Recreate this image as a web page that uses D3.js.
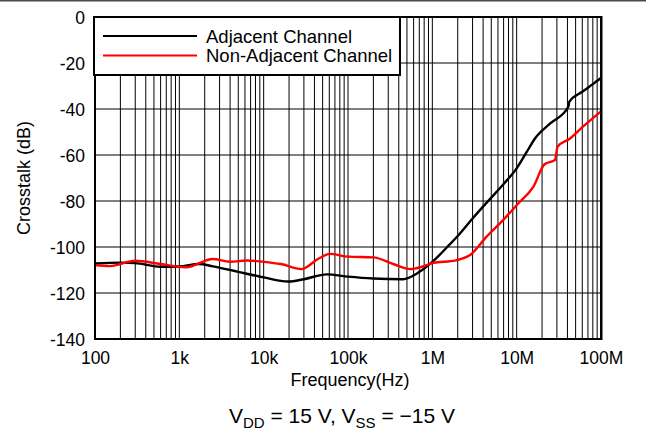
<!DOCTYPE html>
<html>
<head>
<meta charset="utf-8">
<script src="https://cdn.jsdelivr.net/npm/d3@7"></script>
<style>
  html, body { margin: 0; padding: 0; background: #fff; }
  svg { display: block; font-family: "Liberation Sans", Arial, sans-serif; }
</style>
</head>
<body>
<svg id="chart" width="646" height="430"></svg>
<script>
// Crosstalk vs frequency, VDD = 15 V, VSS = -15 V
const xTickValues = [1e2, 1e3, 1e4, 1e5, 1e6, 1e7, 1e8];
const xTickLabels = ["100", "1k", "10k", "100k", "1M", "10M", "100M"];
const yTickValues = [0, -20, -40, -60, -80, -100, -120, -140];
const yTickLabels = ["0", "-20", "-40", "-60", "-80", "-100", "-120", "-140"];
const seriesNames = ["Adjacent Channel", "Non-Adjacent Channel"];
const seriesColors = ["#000000", "#ff0000"];

// [frequency Hz, crosstalk dB]
const adjacent = [
  [100, -107.1], [200, -106.8], [300, -107.0], [600, -108.6], [1000, -108.5],
  [1700, -107.4], [2500, -108.4], [5000, -110.8], [10000, -113.2], [19500, -115.0],
  [30000, -114.0], [56000, -111.9], [100000, -112.9], [200000, -113.7], [450000, -114.0],
  [650000, -111.6], [1000000, -106.5], [1500000, -100.0], [2000000, -95.2], [3000000, -87.6],
  [4700000, -79.6], [7000000, -72.6], [10000000, -65.8], [13000000, -59.0], [16500000, -52.8],
  [25000000, -46.3], [41000000, -39.0], [42000000, -36.9], [60000000, -32.5], [80000000, -29.2],
  [100000000, -26.5]
];
const nonAdjacent = [
  [100, -107.8], [150, -108.3], [300, -106.0], [600, -107.4], [1200, -108.8],
  [2500, -105.2], [4000, -106.4], [6300, -105.9], [12000, -106.8], [16000, -107.4],
  [28000, -109.6], [45000, -105.0], [61000, -103.0], [100000, -104.2], [200000, -104.5],
  [350000, -107.5], [545000, -109.6], [750000, -108.6], [1000000, -107.0], [1900000, -105.8],
  [2800000, -103.5], [4400000, -95.5], [6900000, -88.3], [10500000, -81.0], [15800000, -73.8],
  [21400000, -64.0], [28500000, -62.2], [30500000, -56.4], [43000000, -52.8], [61000000, -47.7],
  [100000000, -41.0]
];

const svg = d3.select("#chart");
const plot = { left: 95, right: 601, top: 17, bottom: 339 };

const x = d3.scaleLog().domain([1e2, 1e8]).range([plot.left, plot.right]);
const y = d3.scaleLinear().domain([-140, 0]).range([plot.bottom, plot.top]);

// thin rule along the top edge of the page
svg.append("rect").attr("x", 0).attr("y", 0).attr("width", 646).attr("height", 1.5).attr("fill", "#4a4a4a");

// log grid: every 1..9 step within each decade
const gridX = [];
for (let d = 2; d < 8; d++) {
  for (let m = 1; m <= 9; m++) gridX.push(m * Math.pow(10, d));
}
const grid = svg.append("g").attr("class", "grid");
grid.selectAll("line.vx").data(gridX.filter(v => v > 1e2 && v < 1e8)).join("line")
  .attr("class", "vx")
  .attr("x1", d => x(d)).attr("x2", d => x(d))
  .attr("y1", plot.top).attr("y2", plot.bottom)
  .attr("stroke", "#000").attr("stroke-width", 1);
grid.selectAll("line.hy").data(yTickValues.filter(v => v > -140 && v < 0)).join("line")
  .attr("class", "hy")
  .attr("x1", plot.left).attr("x2", plot.right)
  .attr("y1", d => y(d)).attr("y2", d => y(d))
  .attr("stroke", "#000").attr("stroke-width", 1);

// curves
const line = d3.line()
  .x(d => x(d[0]))
  .y(d => y(d[1]))
  .curve(d3.curveMonotoneX);
[adjacent, nonAdjacent].forEach((s, i) => {
  svg.append("path").datum(s)
    .attr("d", line)
    .attr("fill", "none")
    .attr("stroke", seriesColors[i])
    .attr("stroke-width", 2.4)
    .attr("stroke-linejoin", "round");
});

// frame
svg.append("rect")
  .attr("x", plot.left).attr("y", plot.top)
  .attr("width", plot.right - plot.left).attr("height", plot.bottom - plot.top)
  .attr("fill", "none").attr("stroke", "#000").attr("stroke-width", 2);
svg.append("line")
  .attr("x1", plot.right + 0.5).attr("x2", plot.right + 0.5)
  .attr("y1", plot.top - 1).attr("y2", plot.bottom + 1)
  .attr("stroke", "#000").attr("stroke-width", 2);

// axes (labels only, the frame carries the axis lines)
const tickFont = 17.5;
const xAxis = d3.axisBottom(x)
  .tickValues(xTickValues)
  .tickFormat((d, i) => xTickLabels[i])
  .tickSize(0).tickPadding(0);
const gx = svg.append("g").attr("transform", `translate(0,${plot.bottom})`).call(xAxis);
gx.select(".domain").remove();
gx.selectAll("text").attr("dy", null).attr("y", 25)
  .attr("font-size", tickFont).attr("fill", "#000")
  .attr("font-family", "Liberation Sans, Arial, sans-serif");

const yAxis = d3.axisLeft(y).tickValues(yTickValues)
  .tickFormat((d, i) => yTickLabels[i])
  .tickSize(0).tickPadding(0);
const gy = svg.append("g").attr("transform", `translate(${plot.left},0)`).call(yAxis);
gy.select(".domain").remove();
gy.selectAll("text").attr("x", -10).attr("dy", "0.36em")
  .attr("font-size", tickFont).attr("fill", "#000")
  .attr("font-family", "Liberation Sans, Arial, sans-serif");

// axis titles
svg.append("text")
  .attr("x", (plot.left + plot.right) / 2 + 2).attr("y", 386)
  .attr("text-anchor", "middle").attr("font-size", 18)
  .text("Frequency(Hz)");
svg.append("text")
  .attr("transform", `translate(30,${(plot.top + plot.bottom) / 2}) rotate(-90)`)
  .attr("text-anchor", "middle").attr("font-size", 18)
  .text("Crosstalk (dB)");

// condition caption
const cap = svg.append("text")
  .attr("x", 342).attr("y", 423)
  .attr("text-anchor", "middle").attr("font-size", 21);
cap.append("tspan").text("V");
cap.append("tspan").attr("font-size", 15).attr("dy", 5).text("DD");
cap.append("tspan").attr("dy", -5).text(" = 15 V, V");
cap.append("tspan").attr("font-size", 15).attr("dy", 5).text("SS");
cap.append("tspan").attr("dy", -5).text(" = \u221215 V");

// legend
const lg = svg.append("g");
lg.append("rect")
  .attr("x", plot.left - 1).attr("y", plot.top)
  .attr("width", 306).attr("height", 58)
  .attr("fill", "#fff").attr("stroke", "#000").attr("stroke-width", 2);
seriesNames.forEach((name, i) => {
  const ly = 36 + i * 19.5;
  lg.append("line")
    .attr("x1", 103).attr("x2", 197).attr("y1", ly).attr("y2", ly)
    .attr("stroke", seriesColors[i]).attr("stroke-width", 2.2);
  lg.append("text")
    .attr("x", 206).attr("y", ly + 6.5)
    .attr("font-size", 18.5).attr("fill", "#000")
    .text(name);
});
</script>
</body>
</html>
